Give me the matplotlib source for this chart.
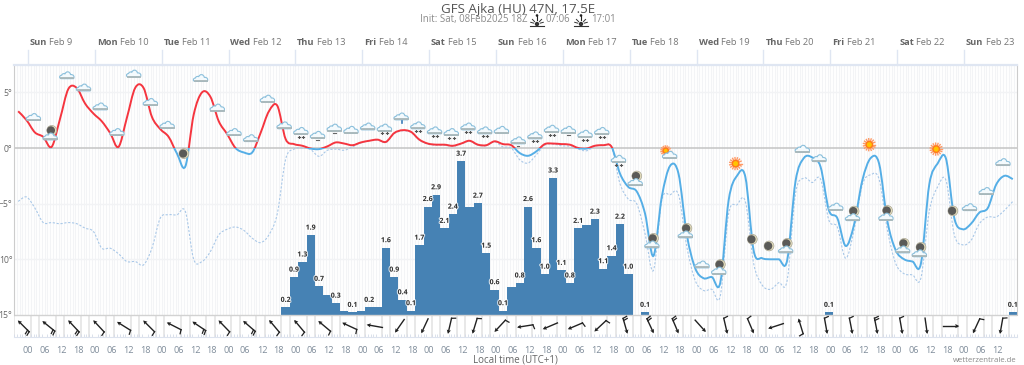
#!/usr/bin/env python3
"""GFS meteogram for Ajka: temperature, dew point, precipitation, wind."""

import matplotlib
matplotlib.use('Agg')
import numpy as np
import matplotlib.pyplot as plt
import matplotlib.patheffects as pe
from matplotlib.path import Path
from matplotlib.patches import PathPatch, Circle, Rectangle
from matplotlib.lines import Line2D
from matplotlib.ticker import FixedLocator, FixedFormatter
from matplotlib.transforms import Affine2D, ScaledTranslation

plt.rcParams['font.family'] = ['Open Sans', 'DejaVu Sans']

# hours are counted from Sun Feb 9 00:00 local time
first_hour = -3.5
step = 3

temp = [3.3, 2.5, 1.4, 1.0, 0.1, 2.6, 5.3, 5.4, 4.0, 3.1, 2.4, 1.35, 0.1, 2.7, 5.4, 5.4, 2.8, 1.7, 1.0, -0.5,
        -1.65, 3.0, 5.0, 4.6, 2.4, 1.25, 0.0, -0.4, -0.4, 1.35, 3.3, 3.8, 0.8, 0.35, 0.2, -0.05, -0.1, 0.15, 0.5, 0.4,
        0.25, 0.5, 0.65, 0.75, 0.55, 1.35, 1.6, 1.45, 0.75, 0.4, 0.3, 0.3, 0.2, 0.4, 0.65, 0.3, 0.25, 0.6, 0.35, 0.25,
        -0.45, -0.7, -0.3, 0.35, 0.4, 0.35, 0.3, 0.0, -0.05, 0.2, 0.25, 0.1, -2.3, -3.5, -3.9, -5.9, -9.7, -4.4, -1.6, -2.3,
        -7.8, -10.8, -11.7, -11.6, -12.1, -4.7, -2.5, -2.6, -9.25, -9.9, -10.0, -10.0, -10.1, -3.0, -0.9, -0.85, -1.7, -5.6, -6.3, -8.8,
        -6.9, -2.9, -0.9, -1.4, -6.6, -9.2, -10.0, -10.2, -10.4, -3.3, -1.4, -0.95, -6.3, -7.3, -6.8, -5.8, -5.4, -3.3, -2.5, -2.8]

dewpoint = [-4.8, -4.4, -5.4, -6.7, -6.7, -6.8, -6.7, -6.8, -7.2, -7.5, -9.0, -9.0, -9.5, -10.2, -10.2, -10.5, -9.0, -6.3, -6.0, -6.0,
            -5.7, -10.0, -10.2, -9.3, -7.8, -7.3, -7.1, -7.4, -8.1, -8.5, -7.8, -5.9, -1.0, -0.1, 0.0, -0.15, -0.75, -0.2, -0.1, -0.2,
            0.1, 0.45, 0.65, 0.7, 0.5, 1.3, 1.55, 1.4, 0.7, 0.35, 0.25, 0.25, 0.15, 0.35, 0.6, 0.25, 0.2, 0.55, 0.1, 0.0,
            -1.05, -1.35, -0.6, 0.25, 0.35, 0.2, 0.15, -0.1, -0.25, 0.15, 0.2, 0.05, -3.2, -4.6, -5.0, -7.7, -11.0, -4.7, -4.2, -4.2,
            -8.9, -11.9, -12.8, -12.7, -13.3, -5.9, -5.1, -4.8, -10.4, -12.3, -12.7, -12.1, -11.9, -4.1, -2.7, -3.1, -2.8, -6.5, -7.1, -9.9,
            -7.4, -3.3, -2.4, -2.8, -7.4, -10.4, -11.3, -11.4, -11.7, -5.7, -3.5, -2.9, -7.8, -8.7, -8.3, -6.8, -6.2, -6.2, -5.6, -4.8]

# 3 hourly precipitation in mm, from bar index 32 on
precip_first = 32
precip = [0.18, 0.9, 1.26, 1.9, 0.68, 0.48, 0.28, 0.1, 0.06, 0.1, 0.18, 0.18, 1.6, 0.9, 0.36, 0.1,
          1.66, 2.58, 2.86, 2.06, 2.4, 3.66, 2.58, 2.66, 1.47, 0.6, 0.1, 0.67, 0.76, 2.58, 1.6, 0.97,
          3.26, 1.06, 0.76, 2.06, 2.14, 2.28, 1.1, 1.41, 2.16, 0.97, 0.0, 0.06]
precip_labelled = [32, 33, 34, 35, 36, 38, 40, 42, 44, 45, 46, 47, 48, 49, 50, 51, 52, 53, 55, 56, 57, 58,
                   60, 61, 62, 63, 64, 65, 66, 67, 69, 70, 71, 72, 73, 75]
late_precip = [(97, 0.06), (119, 0.06)]

# weather symbols every 6 hours: (temperature level, kind)
icon_first_hour = 2
icon_step = 6
icons = [(2.75, 'c'), (1.0, 'mc'), (6.5, 'c'), (5.4, 'c'), (3.7, 'c'), (1.4, 'c'), (6.65, 'c'), (4.1, 'c'),
         (2.05, 'c'), (-0.5, 'm'), (6.25, 'c'), (3.6, 'c'), (1.4, 'c'), (0.85, 'c'), (4.4, 'c'), (2.0, 'c'),
         (1.5, 'cs'), (1.15, 'cd'), (1.8, 'cd'), (1.6, 'c'), (1.9, 'c'), (1.8, 'cs'), (2.8, 'cr'), (2.0, 'cs'),
         (1.55, 'cs'), (1.4, 'cs'), (1.9, 'cs'), (1.55, 'cs'), (1.6, 'c'), (0.65, 'cd'), (1.1, 'cs'), (1.7, 'cs'),
         (1.6, 'cd'), (1.25, 'cs'), (1.5, 'cs'), (-1.0, 'cs'), (-3.1, 'mc'), (-8.7, 'mc'), (-0.6, 'sc'), (-7.8, 'mc'),
         (-10.5, 'c'), (-11.05, 'mc'), (-1.4, 's'), (-8.2, 'm'), (-8.8, 'm'), (-9.15, 'mc'), (-0.1, 'c'), (-0.95, 'c'),
         (-5.3, 'c'), (-6.25, 'mc'), (0.3, 's'), (-6.2, 'mc'), (-9.15, 'mc'), (-9.5, 'mc'), (-0.1, 's'), (-5.65, 'm'),
         (-5.35, 'c'), (-3.9, 'c'), (-1.3, 'c')]

# wind arrows every 9 hours: heading of the arrow (deg, counter clockwise from east) and barbs on the tail
wind_first_hour = -1.6
wind_step = 9
wind_heading = [135, 141, 133, 133, 148, 135, 153, 146, 134, 139, 130, 130, 140, 155, 170, 235, 245, 257, 253, 227,
                189, 203, 203, 223, 286, 295, 293, 312, 283, 293, 198, 107, 280, 281, 281, 280, 278, 0, 245, 260]
wind_barbs = [2, 2, 2, 1, 1, 1, 1, 2, 1, 2, 1, 1, 1, 1, 0, 0, 0, 1, 1, 1,
              1, 0, 1, 1, 2, 2, 2, 0, 1, 1, 0, 1, 1, 1, 2, 1, 0, 0, 1, 1]

day_names = ['Sun', 'Mon', 'Tue', 'Wed', 'Thu', 'Fri', 'Sat', 'Sun', 'Mon', 'Tue', 'Wed', 'Thu', 'Fri', 'Sat', 'Sun']
day_dates = ['Feb 9', 'Feb 10', 'Feb 11', 'Feb 12', 'Feb 13', 'Feb 14', 'Feb 15', 'Feb 16', 'Feb 17', 'Feb 18',
             'Feb 19', 'Feb 20', 'Feb 21', 'Feb 22', 'Feb 23']
temp_ticks = [5, 0, -5, -10, -15]
temp_labels = ['5°', '0°', '\u22125°', '10°', '15°']

W, H = 1024, 365
fig = plt.figure(figsize=(W / 100, H / 100), dpi=100)
left, right, top, bottom = 14, 1017, 65, 337
ax = fig.add_axes([left / W, 1 - bottom / H, (right - left) / W, (bottom - top) / H])
axp = ax.twinx()
ax.set_zorder(axp.get_zorder() + 1)
ax.patch.set_visible(False)
axp.patch.set_visible(True)

x0, x1 = -5, 355
ax.set_xlim(x0, x1)
ax.set_ylim((148 - bottom) / 11.13, (148 - top) / 11.13)
axp.set_ylim(-(bottom - 315) / 42, (315 - top) / 42)
ax.yaxis.set_major_locator(FixedLocator(temp_ticks))
ax.yaxis.set_major_formatter(FixedFormatter(temp_labels))
ax.tick_params(axis='y', length=0, pad=1.2, labelsize=6.2, labelcolor='#666666')
axp.set_yticks([])
ax.set_xticks(np.arange(0, 349, 6))
ax.set_xticklabels(['%02d' % (h % 24) for h in range(0, 349, 6)])
ax.tick_params(axis='x', length=0, pad=6.5, labelsize=6.6, labelcolor='#7f8c9a')
ax.set_xticks(np.arange(-5, 356, 1), minor=True)
ax.tick_params(axis='x', which='minor', direction='in', length=2, width=0.6, color='#d5dce8')

for a in (ax, axp):
    for s in a.spines.values():
        s.set_visible(False)
ax.spines['bottom'].set_visible(True)
ax.spines['bottom'].set_color('#dde3ee')
ax.spines['top'].set_visible(True)
ax.spines['top'].set_color('#dfe6f2')
ax.spines['top'].set_linewidth(1.6)
ax.spines['left'].set_visible(True)
ax.spines['left'].set_color('#cccccc')
ax.spines['left'].set_bounds(-15, (148 - top) / 11.13)
ax.spines['right'].set_visible(True)
ax.spines['right'].set_color('#cccccc')
ax.spines['right'].set_bounds(-15, (148 - top) / 11.13)

# background grid, bars sit on axp so it goes there
ytop = (148 - top) / 11.13
hours_minor = np.arange(-5, 356, 1)
axp.vlines(hours_minor, 0, 6, color='#f3f4f6', lw=0.8, zorder=0)
for t in [5, -5, -10]:
    axp.axhline((t * 11.13 + 167) / 42, color='#f2f3f5', lw=1.0, zorder=0.5)
ax.axhline(0, color='#c4c4c4', lw=1.1, zorder=1)
ax.axhline(-15, color='#d2d2d2', lw=1.0, zorder=1)
ax.vlines(np.arange(-5, 355, 9), -16.95, -15, color='#e2e2e2', lw=1.1, zorder=0.6)
ax.vlines(np.arange(1, 355, 9), -16.95, -15, color='#e2e2e2', lw=1.1, zorder=0.6)


def smooth_path(xs, ys):
    # Catmull-Rom through the readings, written out as cubic bezier segments
    pts = np.column_stack([xs, ys])
    verts = [pts[0]]
    codes = [Path.MOVETO]
    n = len(pts)
    for i in range(n - 1):
        p0 = pts[max(i - 1, 0)]
        p1 = pts[i]
        p2 = pts[i + 1]
        p3 = pts[min(i + 2, n - 1)]
        verts += [p1 + (p2 - p0) / 6, p2 - (p3 - p1) / 6, p2]
        codes += [Path.CURVE4] * 3
    return Path(verts, codes)


hours = first_hour + step * np.arange(len(temp))
bar_hours = first_hour + step * (precip_first + np.arange(len(precip)))
axp.bar(bar_hours, precip, width=step, color='#4682b4', zorder=2)
late_i = [k for k, v in late_precip]
late_v = [v for k, v in late_precip]
axp.bar(first_hour + step * np.array(late_i), late_v, width=step, color='#4682b4', zorder=2)

halo = [pe.withStroke(linewidth=1.6, foreground='#ffffff', alpha=0.75)]
label_items = [(first_hour + step * k, precip[k - precip_first]) for k in precip_labelled]
label_items += [(first_hour + step * k, v) for k, v in late_precip]
for h, v in label_items:
    axp.annotate('%.1f' % v, (h, v), xytext=(0, 2.6), textcoords='offset points', ha='center', va='bottom',
                 fontsize=5, fontweight='bold', color='#333333', path_effects=halo, zorder=3)

ax.add_patch(PathPatch(smooth_path(hours, dewpoint), fill=False, ec='#a9c8e8', lw=0.8, ls=(0, (2, 1.5)), zorder=2))
ymin = ax.get_ylim()[0]
warm = ax.add_patch(PathPatch(smooth_path(hours, temp), fill=False, ec='#f5353f', lw=1.4, zorder=3))
warm.set_clip_path(Rectangle((x0, 0), x1 - x0, ytop, transform=ax.transData))
cold = ax.add_patch(PathPatch(smooth_path(hours, temp), fill=False, ec='#55aee6', lw=1.4, zorder=3))
cold.set_clip_path(Rectangle((x0, ymin), x1 - x0, -ymin, transform=ax.transData))

# symbols, shapes in pixels around an anchor given in data units
CLOUD = Path([(-5.5, -3), (-8, -3), (-8, 0.4), (-5.2, 0.4), (-4.8, 2.2), (-2.6, 2.4), (-2, 1.6), (-1, 4.8), (3, 4.6),
              (3.6, 1.0), (6.2, 1.6), (8, -0.8), (6.6, -3), (-5.5, -3)],
             [Path.MOVETO] + [Path.CURVE4] * 12 + [Path.LINETO])


def at(h, t, dx=0, dy=0):
    return Affine2D().translate(dx, dy) + ScaledTranslation(h, t, ax.transData)


def draw_cloud(h, t, dx=0, dy=0):
    tr = at(h, t, dx, dy)
    ax.add_patch(PathPatch(CLOUD, fc='#f4fafd', ec='#8cc0dc', lw=0.8, transform=tr, zorder=5))
    ax.add_line(Line2D([-6, 6.3], [-2.6, -2.6], color='#a9b7b9', lw=1.3, transform=tr, zorder=5.1))


def draw_moon(h, t, dx=0, dy=0):
    tr = at(h, t, dx, dy)
    ax.add_patch(Circle((0, 0), 4.9, fc='#e6dfbd', ec='#a8a594', lw=0.5, transform=tr, zorder=4.5))
    ax.add_patch(Circle((-0.8, 0), 4.1, fc='#5a5a58', ec='none', transform=tr, zorder=4.6))


def draw_sun(h, t, dx=0, dy=0, r=1.0):
    tr = at(h, t, dx, dy)
    for a in np.arange(0, 360, 24):
        c, s = np.cos(np.radians(a)), np.sin(np.radians(a))
        ax.add_line(Line2D([3.3 * r * c, 6 * r * c], [3.3 * r * s, 6 * r * s], color='#ff9a66', lw=1.0,
                           transform=tr, zorder=4.5))
    ax.add_patch(Circle((0, 0), 3.2 * r, fc='#ffc400', ec='#ff7a1a', lw=1.0, transform=tr, zorder=4.6))


def draw_flakes(h, t, marks, color='#555555'):
    tr = at(h, t)
    for mx in marks:
        ax.add_line(Line2D([mx - 1, mx + 1], [-5.5, -5.5], color=color, lw=0.9, transform=tr, zorder=5))
        ax.add_line(Line2D([mx, mx], [-6.5, -4.5], color=color, lw=0.7, transform=tr, zorder=5))


for i, (t, kind) in enumerate(icons):
    h = icon_first_hour + icon_step * i
    if kind == 'm':
        draw_moon(h, t)
    elif kind == 's':
        draw_sun(h, t)
    elif kind == 'mc':
        draw_moon(h, t, 1.5, 6.5)
        draw_cloud(h, t)
    elif kind == 'sc':
        draw_sun(h, t, -3, 4, 0.8)
        draw_cloud(h, t, 1, -0.5)
    else:
        draw_cloud(h, t)
        if kind == 'cs':
            draw_flakes(h, t, [-2.2, 2.2])
        elif kind == 'cd':
            ax.add_line(Line2D([-1.2, 1.2], [-5, -5], color='#666666', lw=0.8, transform=at(h, t), zorder=5))
        elif kind == 'cr':
            ax.add_line(Line2D([1, 1], [-6.6, -4.6], color='#3a7ab8', lw=1.2, transform=at(h, t), zorder=5))


# wind arrows
for j, (ang, nb) in enumerate(zip(wind_heading, wind_barbs)):
    h = wind_first_hour + wind_step * j
    tr = Affine2D().rotate_deg(ang) + ScaledTranslation(h, -16.0, ax.transData)
    ax.add_line(Line2D([-8, 6], [0, 0], color='#222222', lw=1.0, transform=tr, zorder=6))
    head = Path([(8, 0), (4, 2.1), (4.6, 0), (4, -2.1), (8, 0)], closed=True)
    ax.add_patch(PathPatch(head, fc='#222222', ec='none', transform=tr, zorder=6))
    for b in range(nb):
        bx = -8 + 2.2 * b
        ax.add_line(Line2D([bx, bx - 1.0], [0, 4.0], color='#222222', lw=0.9, transform=tr, zorder=6))

# date header above the plot
px = Affine2D().scale(1, -1).translate(0, H)
for d, (name, date) in enumerate(zip(day_names, day_dates)):
    h = 24 * d
    ax.plot([h, h], [ytop, ytop + 1.35], color='#dfe6f2', lw=1.0, clip_on=False, zorder=1)
    lab = ax.annotate(name, (h, ytop), xytext=(1.4, 13), textcoords='offset points', ha='left', va='bottom',
                      fontsize=6.7, fontweight='bold', color='#666666', annotation_clip=False)
    ax.annotate(date, xy=(1, 0), xycoords=lab, xytext=(1.6, 0), textcoords='offset points', ha='left', va='bottom',
                fontsize=6.7, color='#777777', annotation_clip=False)

fig.text(518 / W, 1 - 9.5 / H, 'GFS Ajka (HU) 47N, 17.5E', ha='center', va='center', fontsize=9.6, color='#555555')
init_pieces = [(420, 'Init: Sat, 08Feb2025 18Z'), (546, '07:06'), (591, '17:01')]
for xp, s in init_pieces:
    fig.text(xp / W, 1 - 19.5 / H, s, ha='left', va='center', fontsize=6.9, color='#8a8a8a')


def sun_glyph(cx, base):
    # little sunrise or sunset sign in the subtitle, cx and base in pixels from the top left
    fig.add_artist(Line2D([cx - 7, cx + 7], [base, base], color='#333333', lw=0.8, transform=px))
    fig.add_artist(Line2D([cx, cx], [base - 10.5, base - 6], color='#222222', lw=0.8, transform=px))
    fig.add_artist(Circle((cx, base - 10), 1.3, fc='#222222', ec='none', transform=px))
    fig.add_artist(Circle((cx, base - 1.5), 2.2, fc='#333333', ec='none', transform=px))
    for a in (-75, -45, 45, 75):
        c, s = np.sin(np.radians(a)), np.cos(np.radians(a))
        fig.add_artist(Line2D([cx + 3.4 * c, cx + 6.5 * c], [base - 1.5 - 3.4 * s, base - 1.5 - 6.5 * s],
                              color='#333333', lw=0.7, transform=px))


sun_glyph(537, 25.5)
sun_glyph(581, 25.5)

fig.text(515 / W, 1 - 360 / H, 'Local time (UTC+1)', ha='center', va='center', fontsize=7, color='#666666')
fig.text(1017 / W, 1 - 361 / H, 'wetterzentrale.de', ha='right', va='center', fontsize=5.6, color='#888888')

plt.savefig('out.png', dpi=100)
print('Saved to out.png')
